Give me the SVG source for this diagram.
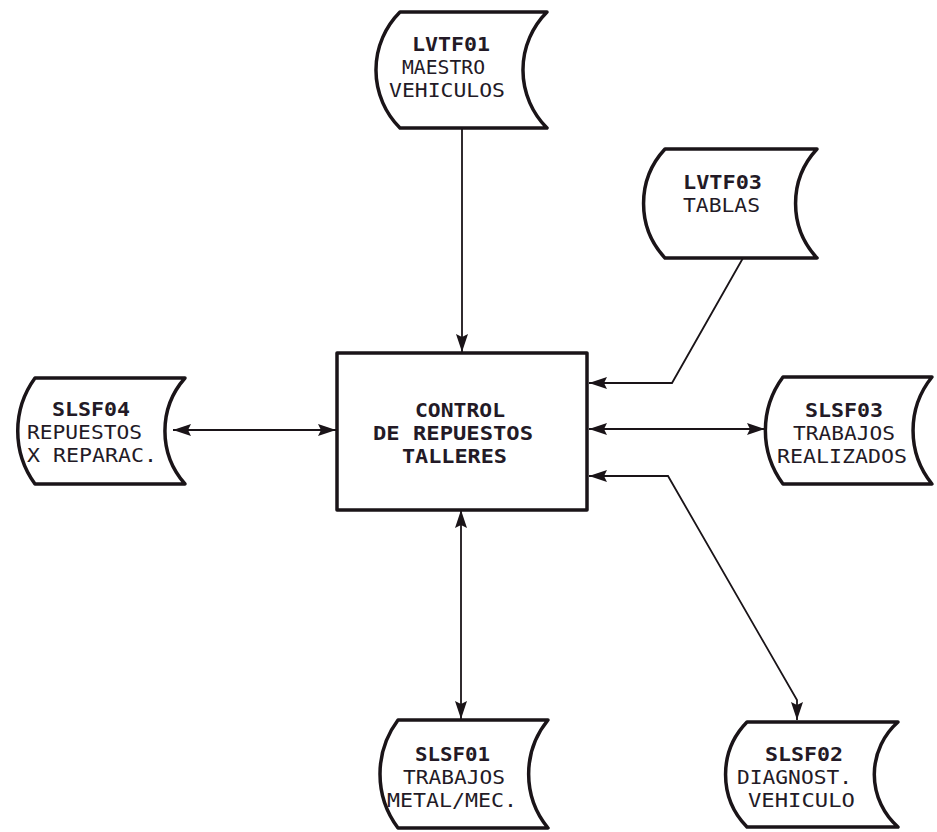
<svg xmlns="http://www.w3.org/2000/svg" width="937" height="832" viewBox="0 0 937 832">
<style>
.shape{fill:#fff;stroke:#1a1418;stroke-width:3.5;stroke-linejoin:round}
.conn{fill:none;stroke:#1a1418;stroke-width:1.8}
.t{font-family:"DejaVu Sans Mono","Liberation Mono",monospace;font-size:19px;fill:#231a26}
.b{font-weight:bold}
</style>
<defs>
<marker id="ah" markerUnits="userSpaceOnUse" markerWidth="20" markerHeight="14" refX="18" refY="6.5" orient="auto-start-reverse">
<path d="M0,0.5 L18,6.5 L0,12.5 L3,6.5 z" fill="#1a1418"/>
</marker>
</defs>
<rect width="937" height="832" fill="#fff"/>

<g id="connectors">
<path class="conn" d="M462,128 L462,352" marker-end="url(#ah)"/>
<path class="conn" d="M743,258 L672,383 L589,383" marker-end="url(#ah)"/>
<path class="conn" d="M589,429 L765,429" marker-start="url(#ah)" marker-end="url(#ah)"/>
<path class="conn" d="M589,476 L668,476 L797,700 L797,720" marker-start="url(#ah)" marker-end="url(#ah)"/>
<path class="conn" d="M461,510 L461,719" marker-start="url(#ah)" marker-end="url(#ah)"/>
<path class="conn" d="M173,430 L336,430" marker-start="url(#ah)" marker-end="url(#ah)"/>
</g>

<g id="control">
<rect class="shape" x="337" y="353" width="250" height="157"/>
<text class="t b" x="415" y="417" textLength="90" lengthAdjust="spacingAndGlyphs">CONTROL</text>
<text class="t b" x="373" y="440" textLength="160" lengthAdjust="spacingAndGlyphs">DE REPUESTOS</text>
<text class="t b" x="402" y="463" textLength="105" lengthAdjust="spacingAndGlyphs">TALLERES</text>
</g>

<g id="LVTF01">
<path class="shape" d="M400,12 L547,12 A82,82 0 0 0 547,128 L400,128 A82,82 0 0 1 400,12 Z"/>
<text class="t b" x="412" y="51" textLength="78" lengthAdjust="spacingAndGlyphs">LVTF01</text>
<text class="t" x="402" y="74" textLength="83" lengthAdjust="spacingAndGlyphs">MAESTRO</text>
<text class="t" x="389" y="97" textLength="116" lengthAdjust="spacingAndGlyphs">VEHICULOS</text>
</g>

<g id="LVTF03">
<path class="shape" d="M665,149 L817,149 A80,80 0 0 0 817,258 L665,258 A80,80 0 0 1 665,149 Z"/>
<text class="t b" x="683" y="189" textLength="79" lengthAdjust="spacingAndGlyphs">LVTF03</text>
<text class="t" x="683" y="212" textLength="77" lengthAdjust="spacingAndGlyphs">TABLAS</text>
</g>

<g id="SLSF04">
<path class="shape" d="M35,378 L185,378 A80,80 0 0 0 185,484 L35,484 A90,90 0 0 1 35,378 Z"/>
<text class="t b" x="52" y="416" textLength="78" lengthAdjust="spacingAndGlyphs">SLSF04</text>
<text class="t" x="27" y="439" textLength="115" lengthAdjust="spacingAndGlyphs">REPUESTOS</text>
<text class="t" x="27" y="462" textLength="130" lengthAdjust="spacingAndGlyphs">X REPARAC.</text>
</g>

<g id="SLSF03">
<path class="shape" d="M783,377 L932,377 A85,85 0 0 0 932,484 L783,484 A90,90 0 0 1 783,377 Z"/>
<text class="t b" x="805" y="417" textLength="78" lengthAdjust="spacingAndGlyphs">SLSF03</text>
<text class="t" x="793" y="440" textLength="102" lengthAdjust="spacingAndGlyphs">TRABAJOS</text>
<text class="t" x="777" y="463" textLength="130" lengthAdjust="spacingAndGlyphs">REALIZADOS</text>
</g>

<g id="SLSF01">
<path class="shape" d="M398,720 L548,720 A85,85 0 0 0 548,828 L398,828 A90,90 0 0 1 398,720 Z"/>
<text class="t b" x="415" y="761" textLength="75" lengthAdjust="spacingAndGlyphs">SLSF01</text>
<text class="t" x="403" y="784" textLength="102" lengthAdjust="spacingAndGlyphs">TRABAJOS</text>
<text class="t" x="387" y="807" textLength="130" lengthAdjust="spacingAndGlyphs">METAL/MEC.</text>
</g>

<g id="SLSF02">
<path class="shape" d="M747,722 L898,722 A70,70 0 0 0 898,827 L747,827 A75,75 0 0 1 747,722 Z"/>
<text class="t b" x="765" y="761" textLength="78" lengthAdjust="spacingAndGlyphs">SLSF02</text>
<text class="t" x="737" y="784" textLength="115" lengthAdjust="spacingAndGlyphs">DIAGNOST.</text>
<text class="t" x="748" y="807" textLength="107" lengthAdjust="spacingAndGlyphs">VEHICULO</text>
</g>
</svg>
